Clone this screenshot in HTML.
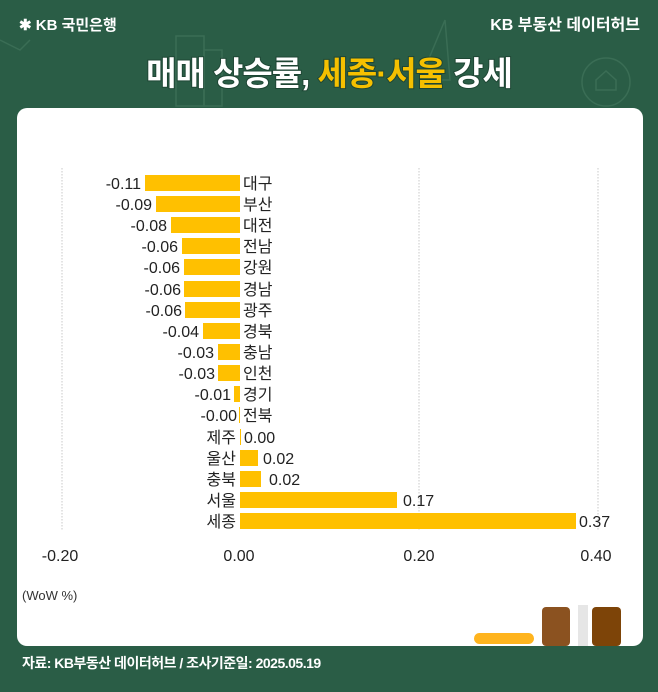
<!DOCTYPE html>
<html><head><meta charset="utf-8"><style>
html,body{margin:0;padding:0;background:#2a5d46;}
svg{display:block}
text{font-family:"Liberation Sans","Noto Sans CJK KR",sans-serif;}
</style></head><body>
<svg width="658" height="692" viewBox="0 0 658 692" xmlns="http://www.w3.org/2000/svg">
<rect width="658" height="692" fill="#2a5d46"/>
<g fill="none" stroke="#3f7259" stroke-width="1.5" opacity="0.8">
<circle cx="606" cy="82" r="24"/><path d="M596 90 v-10 l10 -9 l10 9 v10 z"/>
<rect x="176" y="36" width="28" height="70"/><rect x="204" y="50" width="18" height="56"/>
<path d="M420 80 l25 -60 l5 60 z"/><path d="M0 40 l20 10 l10 -10"/>
</g>
<text x="19" y="30" font-size="15" fill="#fff" font-weight="bold">✱ KB 국민은행</text>
<text x="640" y="30" font-size="16" fill="#fff" font-weight="bold" text-anchor="end">KB 부동산 데이터허브</text>
<text x="329" y="85" font-size="33" font-weight="bold" text-anchor="middle" fill="#fff" style="paint-order:stroke" stroke="#1e4634" stroke-width="2" letter-spacing="-1">매매 상승률, <tspan fill="#f5c000">세종·서울</tspan> 강세</text>
<rect x="17" y="108" width="626" height="538" rx="10" fill="#fff"/>
<g stroke="#c8c8c8" stroke-width="1" stroke-dasharray="1.5,1.5">
<line x1="62" y1="168" x2="62" y2="530"/><line x1="419" y1="168" x2="419" y2="530"/><line x1="598" y1="168" x2="598" y2="530"/>
</g>
<g fill="#ffc000">
<rect x="145" y="175" width="95" height="16"/>
<rect x="156" y="196" width="84" height="16"/>
<rect x="171" y="217" width="69" height="16"/>
<rect x="182" y="238" width="58" height="16"/>
<rect x="184" y="259" width="56" height="16"/>
<rect x="184" y="281" width="56" height="16"/>
<rect x="185" y="302" width="55" height="16"/>
<rect x="203" y="323" width="37" height="16"/>
<rect x="218" y="344" width="22" height="16"/>
<rect x="218" y="365" width="22" height="16"/>
<rect x="234" y="386" width="6" height="16"/>
<rect x="239" y="407" width="1" height="16"/>
<rect x="240" y="429" width="1" height="16"/>
<rect x="240" y="450" width="18" height="16"/>
<rect x="240" y="471" width="21" height="16"/>
<rect x="240" y="492" width="157" height="16"/>
<rect x="240" y="513" width="336" height="16"/>
</g>
<g font-size="16" fill="#222">
<g text-anchor="end">
<text x="141" y="189">-0.11</text><text x="152" y="210">-0.09</text><text x="167" y="231">-0.08</text>
<text x="178" y="252">-0.06</text><text x="180" y="273">-0.06</text><text x="181" y="295">-0.06</text>
<text x="182" y="316">-0.06</text><text x="199" y="337">-0.04</text><text x="214" y="358">-0.03</text>
<text x="215" y="379">-0.03</text><text x="231" y="400">-0.01</text><text x="237" y="421">-0.00</text>
<text x="236" y="443">제주</text><text x="236" y="464">울산</text><text x="236" y="485">충북</text>
<text x="236" y="506">서울</text><text x="236" y="527">세종</text>
</g>
<text x="243" y="189">대구</text><text x="243" y="210">부산</text><text x="243" y="231">대전</text>
<text x="243" y="252">전남</text><text x="243" y="273">강원</text><text x="243" y="295">경남</text>
<text x="243" y="316">광주</text><text x="243" y="337">경북</text><text x="243" y="358">충남</text>
<text x="243" y="379">인천</text><text x="243" y="400">경기</text><text x="243" y="421">전북</text>
<text x="244" y="443">0.00</text><text x="263" y="464">0.02</text><text x="269" y="485">0.02</text>
<text x="403" y="506">0.17</text><text x="579" y="527">0.37</text>
</g>
<g font-size="16" fill="#222" text-anchor="middle">
<text x="60" y="561">-0.20</text><text x="239" y="561">0.00</text><text x="419" y="561">0.20</text><text x="596" y="561">0.40</text>
</g>
<text x="22" y="600" font-size="13" fill="#333">(WoW %)</text>
<rect x="474" y="633" width="60" height="11" rx="5.5" fill="#ffb41e"/>
<rect x="542" y="607" width="28" height="39" rx="4" fill="#8b5220"/>
<rect x="578" y="605" width="10" height="41" fill="#e6e6e6"/>
<rect x="592" y="607" width="29" height="39" rx="4" fill="#7d4408"/>
<text x="22" y="668" font-size="14" fill="#fff" font-weight="bold" letter-spacing="-0.5">자료: KB부동산 데이터허브 / 조사기준일: 2025.05.19</text>
</svg>
</body></html>
